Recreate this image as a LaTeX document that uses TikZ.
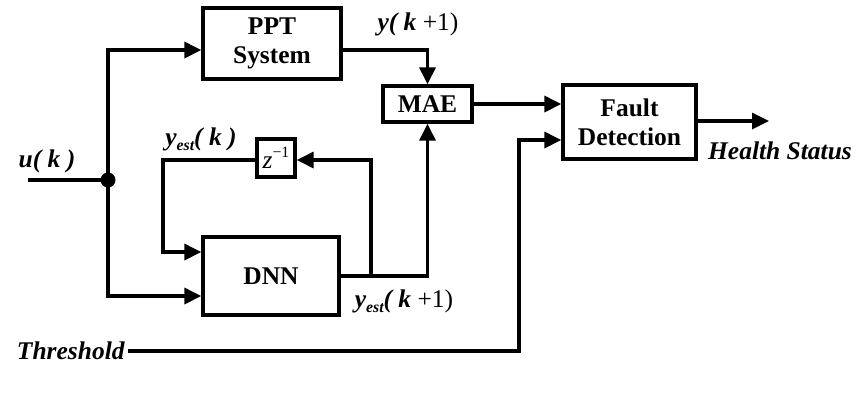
\documentclass[tikz,border=0pt]{standalone}
\usepackage{fontspec}
\setmainfont{Liberation Serif}
\usetikzlibrary{arrows.meta, positioning, calc}
\tikzset{
  every picture/.style={font=\fontsize{14.5}{16.5}\selectfont\bfseries, line width=1.9pt},
  box/.style={draw, align=center, inner sep=2pt},
  arrow/.style={-{Triangle[length=0.34cm, width=0.32cm]}},
  sig/.style={font=\fontsize{14.5}{16.5}\selectfont\bfseries\itshape, inner sep=1pt},
}
\newcommand{\est}{\raisebox{-0.45ex}{\fontsize{9}{9}\selectfont est}}

\begin{document}
\begin{tikzpicture}[x=0.02cm, y=-0.02cm]
  \useasboundingbox (0,0) rectangle (859,397);
  % blocks
  \node[box, minimum width=2.76cm, minimum height=1.42cm] (ppt) at (272,43.5) {PPT\\System};
  \node[box, minimum width=1.78cm, minimum height=0.72cm] (mae) at (427.5,104) {MAE};
  \node[box, minimum width=2.66cm, minimum height=1.48cm] (fault) at (629.5,122) {Fault\\Detection};
  \node[box, minimum width=0.76cm, minimum height=0.76cm, font=\fontsize{14.5}{16.5}\selectfont\mdseries] (zinv) at (276,158)
    {\textit{z}\raisebox{0.9ex}{\fontsize{9}{9}\selectfont \textminus1}};
  \node[box, minimum width=2.72cm, minimum height=1.56cm] (dnn) at (271,276) {DNN};
  % signal labels
  \node[sig] (uk) at (47,161) {u( k )};
  \node[sig] (yk1) at (418,24) {y( k {\upshape\mdseries +1)}};
  \node[sig] (yestk) at (201,139) {y\est( k )};
  \node[sig] (yestk1) at (404,301) {y\est( k {\upshape\mdseries +1)}};
  \node[sig] (health) at (780,151) {Health Status};
  \node[sig, anchor=east] (thr) at (128,351) {Threshold};
  % corners and junctions
  \coordinate (uin) at (28,180);
  \coordinate (j) at (108,180);
  \coordinate (ptop) at (108,50);
  \coordinate (dlow) at (108,296);
  \coordinate (fb) at (371,276);
  \coordinate (fbtop) at (371,160);
  \coordinate (fbl) at (163,160);
  \coordinate (fbin) at (163,252);
  \coordinate (tcorner) at (519,351);
  \coordinate (tin) at (519,140);
  \coordinate (hout) at (769,121);
  % connectors
  \draw (uin) -- (j);
  \fill (j) circle (7.5);
  \draw[arrow] (j) -- (ptop) -- (ptop -| ppt.west);
  \draw[arrow] (j) -- (dlow) -- (dlow -| dnn.west);
  \draw[arrow] (ptop -| ppt.east) -- (ptop -| mae.north) -- (mae.north);
  \draw[arrow] (dnn.east) -- (dnn.east -| mae.south) -- (mae.south);
  \draw[arrow] (fb) -- (fbtop) -- (fbtop -| zinv.east);
  \draw[arrow] (fbtop -| zinv.west) -- (fbl) -- (fbin) -- (fbin -| dnn.west);
  \draw[arrow] (mae.east) -- (mae.east -| fault.west);
  \draw[arrow] (thr.east) -- (tcorner) -- (tin) -- (tin -| fault.west);
  \draw[arrow] (hout -| fault.east) -- (hout);
\end{tikzpicture}
\end{document}
